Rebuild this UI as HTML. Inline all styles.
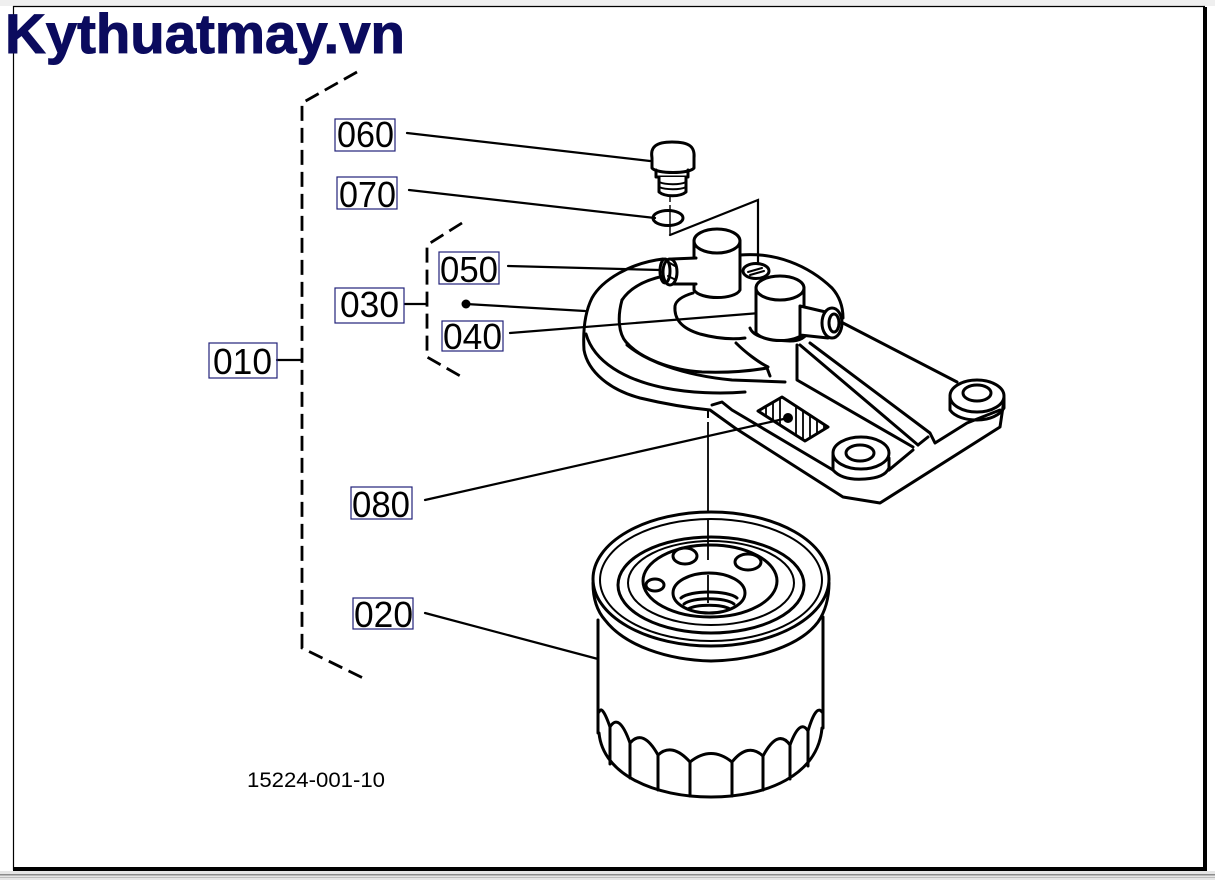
<!DOCTYPE html>
<html><head><meta charset="utf-8">
<style>
html,body{margin:0;padding:0;background:#fff;}
body{width:1215px;height:880px;overflow:hidden;}
svg{display:block;}
.lbl{font-family:"Liberation Sans",sans-serif;font-size:36px;fill:#000;}
.box{fill:none;stroke:#22227a;stroke-width:1.2;}
.ln{stroke:#000;stroke-width:2.2;fill:none;stroke-linecap:round;}
.d{stroke:#000;stroke-width:3;fill:none;stroke-linecap:round;stroke-linejoin:round;}
.dw{stroke:#000;stroke-width:3;fill:#fff;stroke-linecap:round;stroke-linejoin:round;}
.t{stroke:#000;stroke-width:2;fill:none;stroke-linecap:round;}
</style></head>
<body>
<svg width="1215" height="880" viewBox="0 0 1215 880" xmlns="http://www.w3.org/2000/svg">
<rect x="0" y="0" width="1215" height="880" fill="#fff"/>
<rect x="0" y="0" width="1215" height="6" fill="#efefef"/>
<rect x="0" y="871" width="1215" height="9" fill="#e6e6e6"/>
<rect x="0" y="874" width="1215" height="1.5" fill="#8c8c8c"/>
<rect x="0" y="877" width="1215" height="1" fill="#bdbdbd"/>
<!-- frame -->
<line x1="13.5" y1="6" x2="13.5" y2="870" stroke="#000" stroke-width="1.2"/>
<line x1="13" y1="6.5" x2="1205" y2="6.5" stroke="#000" stroke-width="1.2"/>
<rect x="1203" y="7" width="4" height="864" fill="#000"/>
<rect x="13" y="867" width="1194" height="4" fill="#000"/>

<!-- title -->
<text x="5" y="53" font-family="Liberation Sans, sans-serif" font-weight="bold" font-size="56" fill="#0b0b5e" stroke="#0b0b5e" stroke-width="1" textLength="400" lengthAdjust="spacingAndGlyphs">Kythuatmay.vn</text>

<!-- brackets -->
<path d="M357,72 L302,103 L302,648 L365,679" fill="none" stroke="#000" stroke-width="2.8" stroke-dasharray="15 7"/>
<path d="M462,223 L427,245 L427,357 L462,377" fill="none" stroke="#000" stroke-width="2.8" stroke-dasharray="15 7"/>
<line class="ln" x1="277" y1="360" x2="302" y2="360"/>
<line class="ln" x1="405" y1="304" x2="427" y2="304"/>

<!-- leaders -->
<line class="ln" x1="407" y1="133" x2="650" y2="161"/>
<line class="ln" x1="409" y1="190" x2="655" y2="218"/>
<line class="ln" x1="508" y1="266" x2="660" y2="270"/>
<circle cx="466" cy="304" r="4.5" fill="#000"/>
<line class="ln" x1="466" y1="304" x2="585" y2="311"/>
<line class="ln" x1="510" y1="333" x2="760" y2="313"/>
<line class="ln" x1="425" y1="500" x2="788" y2="418"/>
<line class="ln" x1="425" y1="613" x2="598" y2="659"/>

<!-- labels -->
<rect class="box" x="335" y="119" width="60" height="32"/>
<text class="lbl" x="337" y="147" textLength="57" lengthAdjust="spacingAndGlyphs">060</text>
<rect class="box" x="337" y="177" width="60" height="32"/>
<text class="lbl" x="339" y="207" textLength="57" lengthAdjust="spacingAndGlyphs">070</text>
<rect class="box" x="439" y="252" width="60" height="32"/>
<text class="lbl" x="440" y="282" textLength="58" lengthAdjust="spacingAndGlyphs">050</text>
<rect class="box" x="335" y="288" width="69" height="35"/>
<text class="lbl" x="340" y="317" textLength="59" lengthAdjust="spacingAndGlyphs">030</text>
<rect class="box" x="442" y="321" width="61" height="30"/>
<text class="lbl" x="443" y="349" textLength="59" lengthAdjust="spacingAndGlyphs">040</text>
<rect class="box" x="209" y="343" width="68" height="35"/>
<text class="lbl" x="213" y="374" textLength="59" lengthAdjust="spacingAndGlyphs">010</text>
<rect class="box" x="351" y="487" width="61" height="32"/>
<text class="lbl" x="352" y="517" textLength="58" lengthAdjust="spacingAndGlyphs">080</text>
<rect class="box" x="353" y="598" width="60" height="31"/>
<text class="lbl" x="354" y="627" textLength="59" lengthAdjust="spacingAndGlyphs">020</text>

<text x="247" y="787" font-family="Liberation Sans, sans-serif" font-size="21" fill="#000" textLength="138" lengthAdjust="spacingAndGlyphs">15224-001-10</text>

<!-- ===== bolt 060 ===== -->
<path class="dw" d="M652,158 C650,147 656,142 672,142 C690,142 695,147 694,158 L694,168 C690,174 656,174 652,168 Z"/>
<path class="d" d="M656,170 L656,177 L688,177 L688,170"/>
<path class="dw" d="M659,177 L659,192 C665,197 680,197 686,192 L686,177"/>
<path class="t" d="M659,182 C666,185 680,185 686,182 M659,187 C666,190 680,190 686,187"/>
<line x1="670" y1="197" x2="670" y2="210" stroke="#000" stroke-width="1.4" stroke-dasharray="5 3"/>
<!-- washer -->
<ellipse class="d" cx="668" cy="218" rx="15" ry="7.5"/>
<line x1="670" y1="212" x2="670" y2="234" stroke="#000" stroke-width="1.4"/>
<path class="ln" d="M670,235 L758,200 L758,263"/>

<!-- ===== plate ===== -->
<!-- outer contour -->
<path class="d" d="M663,259 C630,263 602,280 592,298 C584,314 583,333 584,350 C588,372 610,390 640,398 C665,404 690,408 710,410 L735,428 L843,497 L880,503 L1000,427 L1004,400"/>
<!-- top face front edge -->
<path class="d" d="M586,334 C594,362 625,380 665,388 C690,393 720,394 745,392"/>
<path class="d" d="M712,405 L722,402 L732,410 L833,470"/>
<!-- recess -->
<path class="d" d="M622,300 C617,318 619,334 626,342 C640,358 670,370 702,372 C730,373 750,371 767,368 L770,376"/>
<path class="d" d="M622,300 C630,288 645,280 664,276"/>
<path class="d" d="M627,345 C645,360 680,375 732,380 L785,382"/>
<path class="d" d="M736,343 C745,352 758,362 768,367"/>
<!-- right top edge -->
<path class="d" d="M740,255 C775,252 808,265 832,288 C840,297 843,307 843,318"/>
<path class="d" d="M843,323 L957,382"/>
<!-- right boss -->
<ellipse class="dw" cx="977" cy="396" rx="27" ry="16"/>
<ellipse class="d" cx="977" cy="393" rx="14" ry="8"/>
<path class="d" d="M950,398 L950,410 C955,417 966,420 977,420 C990,420 1000,415 1004,408 L1004,398"/>
<!-- rib / channel -->
<path class="d" d="M797,345 L797,380 L913,447"/>
<path class="d" d="M800,345 L918,445"/>
<path class="d" d="M810,343 L930,433 L935,443 L967,423 L1000,410"/>
<path class="d" d="M918,445 L928,437"/>
<!-- lower boss -->
<ellipse class="dw" cx="861" cy="453" rx="28" ry="16"/>
<ellipse class="d" cx="860" cy="453" rx="14" ry="8"/>
<path class="d" d="M833,455 L833,470 C840,478 852,480 865,479 C878,478 886,475 889,468 L889,458"/>
<path class="d" d="M889,470 L913,450"/>
<line x1="708" y1="410" x2="708" y2="418" stroke="#000" stroke-width="2"/>
<!-- label plate -->
<defs><clipPath id="cp"><polygon points="758,411 782,397 828,427 805,441"/></clipPath></defs>
<g clip-path="url(#cp)" stroke="#000" stroke-width="1.8">
<line x1="766" y1="395" x2="766" y2="445"/><line x1="773" y1="395" x2="773" y2="445"/>
<line x1="780" y1="395" x2="780" y2="445"/><line x1="796" y1="395" x2="796" y2="445"/>
<line x1="803" y1="395" x2="803" y2="445"/><line x1="810" y1="395" x2="810" y2="445"/>
<line x1="817" y1="395" x2="817" y2="445"/><line x1="824" y1="395" x2="824" y2="445"/>
</g>
<polygon class="d" points="758,411 782,397 828,427 805,441"/>
<circle cx="788" cy="418" r="5" fill="#000"/>

<!-- base under ports -->
<path class="d" d="M693,293 C683,296 676,300 675,306 C674,318 680,328 700,334 C715,338 730,340 745,338"/>
<path class="d" d="M750,328 C753,336 765,340 790,341 C800,341 806,337 808,332"/>
<!-- left cylinder -->
<path class="dw" d="M694,241 L694,290 C700,300 735,300 740,290 L740,241 Z"/>
<ellipse class="dw" cx="717" cy="241" rx="23" ry="12"/>
<!-- left nipple -->
<path class="dw" d="M696,258 L672,259 L674,284 L696,284"/>
<ellipse class="dw" cx="670" cy="272" rx="7" ry="13"/>
<ellipse class="d" cx="665" cy="271" rx="5" ry="12"/>
<path class="t" d="M668,262 L675,266 M668,276 L676,280"/>
<!-- screw -->
<ellipse class="dw" cx="756" cy="271" rx="13" ry="7.5"/>
<path class="t" d="M748,272 L762,268 M750,275 L764,271"/>
<!-- right cylinder -->
<path class="dw" d="M756,288 L756,333 C765,343 796,343 804,333 L804,288 Z"/>
<ellipse class="dw" cx="780" cy="288" rx="24" ry="12"/>
<!-- right nipple -->
<path class="dw" d="M800,306 L830,313 L828,338 L800,335 Z"/>
<ellipse class="dw" cx="832" cy="323" rx="10" ry="15"/>
<ellipse class="d" cx="834" cy="323" rx="5" ry="9"/>

<!-- center line -->
<line x1="708" y1="422" x2="708" y2="600" stroke="#000" stroke-width="1.8"/>

<!-- ===== filter ===== -->
<path class="dw" d="M593,583 C593,600 598,612 605,620 C625,646 668,660 711,661 C756,660 800,646 818,622 C825,612 829,598 829,583"/>
<ellipse class="dw" cx="711" cy="579" rx="118" ry="67"/>
<ellipse class="t" cx="711" cy="580" rx="111" ry="61"/>
<ellipse class="d" cx="711" cy="585" rx="93" ry="48"/>
<ellipse class="t" cx="711" cy="583" rx="83" ry="42"/>
<ellipse class="d" cx="710" cy="581" rx="67" ry="36"/>
<ellipse class="d" cx="685" cy="556" rx="12" ry="8"/>
<ellipse class="d" cx="748" cy="562" rx="13" ry="8"/>
<ellipse class="d" cx="655" cy="585" rx="9" ry="6"/>
<ellipse class="dw" cx="709" cy="593" rx="36" ry="20"/>
<path class="d" d="M681,598 C690,590 728,590 737,598"/>
<path class="d" d="M684,604 C692,597 726,597 734,604"/>
<path class="d" d="M688,609 C697,604 721,604 730,609"/>
<line x1="708" y1="575" x2="708" y2="603" stroke="#000" stroke-width="1.8"/>
<line x1="708" y1="520" x2="708" y2="560" stroke="#000" stroke-width="1.8"/>
<!-- body -->
<line class="d" x1="598" y1="620" x2="598" y2="733"/>
<line class="d" x1="823" y1="617" x2="823" y2="728"/>
<path class="d" d="M599,733 C603,775 655,797 711,797 C767,797 818,775 822,728"/>
<path class="d" d="M599,712 Q602,704 610,727 Q619,712 630,743 Q643,728 658,755 Q672,742 690,762 Q711,745 732,762 Q748,742 763,756 Q778,728 790,745 Q800,718 808,731 Q816,704 822,712"/>
<line class="d" x1="610" y1="727" x2="610" y2="764"/>
<line class="d" x1="630" y1="743" x2="630" y2="778"/>
<line class="d" x1="658" y1="755" x2="658" y2="790"/>
<line class="d" x1="690" y1="762" x2="690" y2="796"/>
<line class="d" x1="732" y1="762" x2="732" y2="796"/>
<line class="d" x1="763" y1="756" x2="763" y2="790"/>
<line class="d" x1="790" y1="745" x2="790" y2="779"/>
<line class="d" x1="808" y1="731" x2="808" y2="766"/>
</svg>
</body></html>
